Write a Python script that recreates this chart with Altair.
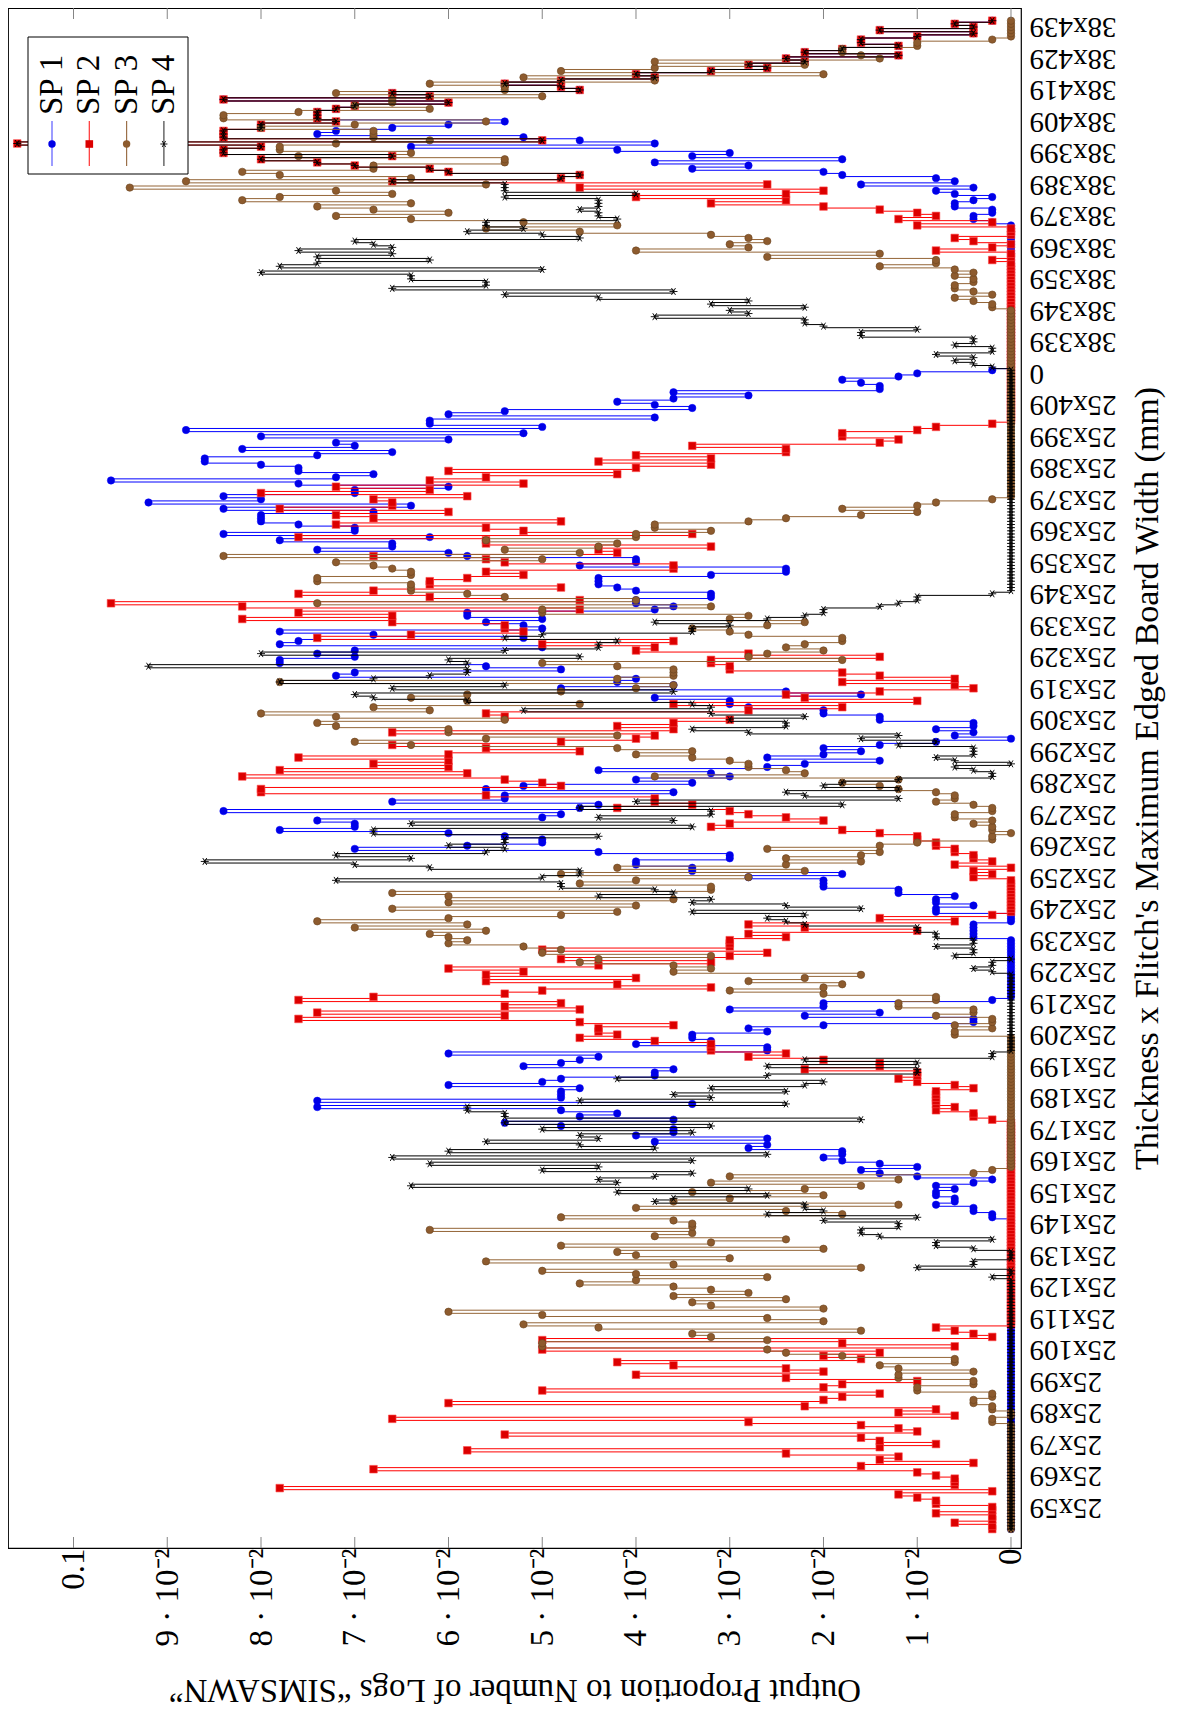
import json
import altair as alt
import pandas as pd

# ---------------- data ----------------
N_LOGS = 500  # proportions are counts of logs out of 500 (steps of 0.002)
SERIES = ["SP 1", "SP 2", "SP 3", "SP 4"]
FIRST_CAT, LAST_CAT = -7, 472          # category positions (1 mm steps)
TICK_POSITIONS = list(range(0, 471, 10))
TICK_LABELS = ["25x59", "25x69", "25x79", "25x89", "25x99", "25x109", "25x119", "25x129",
               "25x139", "25x149", "25x159", "25x169", "25x179", "25x189", "25x199", "25x209",
               "25x219", "25x229", "25x239", "25x249", "25x259", "25x269", "25x279", "25x289",
               "25x299", "25x309", "25x319", "25x329", "25x339", "25x349", "25x359", "25x369",
               "25x379", "25x389", "25x399", "25x409", "0", "38x339", "38x349", "38x359",
               "38x369", "38x379", "38x389", "38x399", "38x409", "38x419", "38x429", "38x439"]
VALUE_TICKS = [0, 0.01, 0.02, 0.03, 0.04, 0.05, 0.06, 0.07, 0.08, 0.09, 0.1]
VALUE_TICK_LABELS = ["0", "1 · 10⁻²", "2 · 10⁻²", "3 · 10⁻²", "4 · 10⁻²", "5 · 10⁻²",
                     "6 · 10⁻²", "7 · 10⁻²", "8 · 10⁻²", "9 · 10⁻²", "0.1"]

# log counts per category position (missing positions are 0)
SP1 = {92:1,93:1,94:2,95:2,96:4,97:3,98:3,99:4,100:4,101:3,102:4,103:2,104:1,105:5,106:7,107:8,
       108:5,109:7,110:9,111:10,112:9,113:9,114:14,115:13,116:19,117:13,118:20,119:18,120:18,
       121:24,122:27,123:18,124:23,125:21,126:24,127:37,128:17,129:37,130:24,131:24,132:24,
       133:23,134:30,135:25,136:24,137:19,138:19,139:18,140:26,141:24,142:23,143:22,144:30,
       145:13,146:13,147:20,148:16,149:17,150:17,151:13,152:14,153:10,154:2,155:2,156:11,
       157:7,158:15,159:10,160:10,161:1,
       181:2,182:2,183:2,184:2,185:2,189:4,190:4,191:2,192:4,193:4,194:3,195:6,196:6,197:10,
       198:10,199:10,200:14,201:9,202:17,203:17,204:20,205:20,206:15,207:15,208:22,209:35,
       210:29,211:25,212:25,213:27,214:30,215:39,216:35,217:35,218:37,219:25,220:24,221:42,
       222:23,223:22,224:33,225:27,226:27,227:18,228:28,229:26,230:17,231:20,232:15,233:16,
       234:22,235:13,236:11,237:7,238:13,239:10,240:8,241:10,242:7,243:4,245:3,246:2,247:4,
       248:2,249:2,250:7,251:7,252:10,253:10,254:14,255:15,256:15,257:19,258:8,259:12,260:24,
       261:18,262:21,263:20,264:36,265:35,266:24,267:28,268:39,269:39,270:35,271:37,272:35,
       273:25,274:39,275:38,276:26,277:34,278:39,279:25,280:26,281:28,282:25,283:29,284:29,
       285:19,286:18,287:20,288:20,289:16,290:16,291:20,292:21,293:22,294:22,295:22,296:16,
       297:12,298:12,299:23,300:20,301:20,302:29,303:30,304:37,305:33,306:33,307:39,308:31,
       309:42,310:35,311:35,312:38,313:40,314:40,315:40,316:34,317:42,318:32,319:46,320:40,
       321:42,322:35,323:35,324:30,325:38,326:48,327:36,328:34,329:38,330:38,331:40,332:43,
       333:43,334:37,335:33,336:41,337:35,338:36,339:30,340:40,341:26,342:44,343:25,344:31,
       345:31,346:19,347:30,348:27,349:17,350:19,351:21,352:18,353:14,354:18,355:7,356:7,
       357:8,358:9,359:6,360:5,361:1,
       408:1,409:2,410:2,411:1,412:1,413:3,414:3,415:2,416:1,417:3,418:4,419:2,420:8,421:3,
       422:4,423:9,424:10,425:17,426:14,427:19,428:9,429:17,430:15,431:21,432:32,433:19,
       434:23,435:26,436:37,437:36,438:33,439:30,440:27}

SP2 = {-7:1,-6:1,-5:3,-4:1,-3:1,-2:4,-1:1,0:1,1:4,2:4,3:5,4:6,5:1,6:39,7:3,8:3,9:3,10:4,11:5,
       12:34,13:8,14:2,15:7,16:6,17:12,18:29,19:7,20:4,21:7,22:8,23:27,24:5,25:6,26:8,27:14,
       28:33,29:3,30:6,31:4,32:11,33:30,34:10,35:9,36:7,37:25,38:10,39:9,40:5,41:12,42:20,
       43:10,44:12,45:18,46:21,47:8,48:10,49:7,50:25,51:3,52:9,53:25,54:1,55:2,56:3,57:4,
       123:1,124:2,125:2,126:4,127:3,128:4,129:4,130:4,131:4,132:4,133:2,134:3,135:5,136:6,
       137:5,138:5,139:11,140:7,141:7,142:10,143:14,144:12,145:16,146:16,147:16,148:19,
       149:23,150:21,151:22,152:22,153:18,154:23,155:38,156:27,157:37,158:23,159:27,160:24,
       161:38,162:34,163:27,164:25,165:16,166:21,167:28,168:20,169:28,170:26,171:30,172:22,
       173:16,174:24,175:15,176:13,177:25,178:15,179:15,180:15,181:12,182:14,183:5,184:11,
       185:14,186:3,187:7,188:1,
       200:2,201:1,202:2,204:3,205:1,206:2,207:2,208:3,209:3,210:4,211:4,212:5,213:5,214:7,
       215:9,216:16,217:15,218:10,219:12,220:14,221:15,222:21,223:17,224:19,225:19,226:28,
       227:40,228:40,229:24,230:25,231:27,232:41,233:29,234:39,235:30,236:34,237:30,238:38,
       239:30,240:23,241:28,242:33,243:24,244:20,245:19,246:33,247:18,248:21,249:18,250:15,
       251:27,252:28,253:14,254:9,255:18,256:5,257:11,258:12,259:7,260:2,261:3,262:9,263:3,
       264:7,265:9,266:15,267:15,268:16,269:16,270:7,271:14,272:20,273:19,274:25,275:18,
       276:37,277:32,278:26,279:27,280:27,281:33,282:41,283:33,284:38,285:23,286:41,287:48,
       288:23,289:31,290:38,291:34,292:24,293:31,294:31,295:29,296:26,297:28,298:18,299:18,
       300:27,301:28,302:34,303:21,304:22,305:16,306:28,307:28,308:38,309:17,310:26,311:28,
       312:36,313:24,314:34,315:36,316:30,317:39,318:33,319:33,320:34,321:29,322:40,323:31,
       324:36,325:26,326:31,327:28,328:21,329:30,330:20,331:16,332:22,333:16,334:20,335:12,
       336:12,337:17,338:7,339:6,340:9,341:9,342:5,343:4,344:1,
       396:1,399:4,400:1,402:2,403:3,407:5,408:1,409:6,410:4,411:5,412:7,413:10,414:16,
       415:12,416:20,417:12,418:10,419:23,420:13}

SP3 = {27:1,28:1,31:1,32:1,33:2,34:2,35:1,36:1,37:5,38:5,39:2,40:2,41:6,42:6,43:2,44:6,45:7,
       46:3,47:3,48:9,49:12,50:13,51:25,52:25,53:13,54:16,55:17,56:8,57:22,58:26,59:10,60:13,
       61:25,62:30,63:10,64:16,65:17,66:12,67:18,68:14,69:16,70:18,71:23,72:20,73:13,74:20,
       75:25,76:8,77:18,78:28,79:15,80:20,81:21,82:10,83:24,84:16,85:12,86:19,87:17,88:31,
       89:17,90:17,91:18,92:24,93:9,94:12,95:20,96:6,97:18,98:15,99:10,100:17,101:11,102:8,
       103:16,104:6,105:15,106:2,107:1,
       150:3,151:3,152:1,153:3,154:1,155:1,156:4,157:2,158:2,159:6,160:6,161:4,162:4,163:10,
       164:15,165:10,166:9,167:14,168:11,169:8,170:18,171:16,172:18,173:23,174:22,175:16,
       176:25,177:24,178:26,179:30,180:29,181:30,182:31,183:28,184:35,185:29,186:37,187:30,
       188:24,189:21,190:33,191:20,192:30,193:18,194:30,195:33,196:16,197:16,198:23,199:20,
       200:14,201:24,202:11,203:21,204:12,205:8,206:12,207:8,208:7,209:13,210:7,211:5,212:1,
       213:1,215:1,216:1,217:2,218:1,219:3,220:3,221:1,222:1,223:2,224:4,225:3,226:3,227:4,
       228:6,229:7,230:9,231:6,232:19,233:11,234:12,235:14,236:14,237:15,238:17,239:20,
       240:17,241:21,242:32,243:35,244:28,245:21,246:30,247:30,248:36,249:37,250:27,251:36,
       252:40,253:31,254:34,255:23,256:29,257:32,258:29,259:24,260:20,261:18,262:39,263:21,
       264:18,265:18,266:18,267:21,268:25,269:9,270:14,271:13,272:10,273:12,274:11,275:9,
       276:9,277:14,278:15,279:17,280:13,281:11,282:15,283:14,284:25,285:25,286:16,287:37,
       288:20,289:27,290:29,291:32,292:32,293:32,294:37,295:37,296:32,297:32,298:33,299:34,
       300:36,301:25,302:42,303:23,304:27,305:22,306:21,307:28,308:20,309:20,310:16,311:19,
       312:19,313:14,314:12,315:8,316:5,317:9,318:5,319:4,320:1,
       381:1,382:1,383:2,384:3,385:1,386:2,387:3,388:3,389:2,390:2,391:3,392:2,393:3,394:7,
       395:4,396:4,397:13,398:7,399:20,400:14,401:15,402:13,403:14,404:16,405:23,406:28,
       407:21,408:26,409:32,410:36,411:30,412:34,413:37,414:32,415:41,416:39,417:33,418:36,
       419:47,420:28,421:44,422:32,423:39,424:41,425:34,426:34,427:27,428:27,429:38,430:32,
       431:39,432:39,433:36,434:31,435:34,436:34,437:34,438:40,439:35,440:28,441:42,442:42,
       443:38,444:31,445:35,446:33,447:33,448:25,449:36,450:27,451:27,452:31,453:19,454:26,
       455:10,456:24,457:19,458:11,459:19,460:7,461:8,462:9,463:9,464:5,465:5,466:1}

SP4 = {73:1,76:5,77:2,78:2,82:2,83:4,84:4,85:1,86:7,87:8,88:8,89:6,90:6,91:10,92:5,93:13,
       94:10,95:11,96:11,97:19,98:18,99:13,100:21,101:14,102:32,103:21,104:22,105:19,106:17,
       107:25,108:22,109:31,110:17,111:33,112:13,113:30,114:19,115:23,116:28,117:22,118:23,
       119:17,120:25,121:16,122:27,123:8,124:27,125:27,126:29,127:29,128:12,129:23,130:16,
       131:18,132:12,133:16,134:11,135:10,136:21,137:13,138:5,139:5,140:13,141:5,142:11,
       143:1,144:1,
       170:1,171:2,172:1,173:1,175:3,176:2,177:2,178:4,179:2,180:2,181:4,182:4,183:5,184:5,
       185:11,186:12,187:13,188:11,189:17,190:8,191:12,192:17,193:16,194:22,195:18,196:19,
       197:24,198:24,199:36,200:25,201:23,202:23,203:31,204:35,205:43,206:32,207:36,208:28,
       209:27,210:30,211:27,212:27,213:22,214:34,215:34,216:17,217:32,218:18,219:22,220:16,
       221:16,222:23,223:9,224:20,225:6,226:11,227:12,228:6,229:10,230:9,231:6,232:1,233:1,
       234:2,235:3,237:3,238:4,239:2,240:2,241:2,242:6,243:4,244:8,245:6,246:14,247:17,
       248:12,249:12,250:15,251:11,252:16,253:26,254:16,255:17,256:29,257:34,258:35,259:18,
       260:33,261:27,262:39,263:34,264:31,265:29,266:29,267:46,268:29,269:30,270:23,271:40,
       272:27,273:22,274:22,275:21,276:27,277:25,278:17,279:17,280:15,281:19,282:13,283:11,
       284:10,285:10,286:7,287:6,288:5,289:5,290:1,
       362:1,363:2,364:3,365:2,366:4,367:1,368:1,369:3,370:2,371:2,372:8,373:8,374:5,375:10,
       376:11,377:11,378:19,379:14,380:15,381:11,382:16,383:14,384:22,385:27,386:18,387:33,
       388:28,389:28,390:32,391:32,392:40,393:25,394:39,395:37,396:31,397:37,398:33,399:38,
       400:33,401:34,402:35,403:23,404:25,405:29,406:26,407:28,408:28,409:21,410:22,411:22,
       412:23,413:22,414:22,415:22,416:27,417:20,418:27,419:27,420:27}

# top rows where the SP 2 square carries the SP 4 star (identical counts); SP 1 hidden beneath from 441
SHARED_TOP_START = 421
SP1_HIDDEN_FROM = 441
SHARED_TOP = [33,24,23,30,31,35,37,40,33,42,42,40,53,25,42,42,42,40,40,36,37,37,37,36,35,30,
              42,31,33,23,24,27,24,19,20,16,13,14,11,12,6,11,9,6,8,8,5,2,7,2,3,1]

# ---------------- styling ----------------
FONT = "Liberation Serif"
LINE_COLORS = ["#0000ff", "#ff0000", "#946537", "#000000"]
LEG_LINE = ["#5a5aff", "#ff3030", "#9b7049", "#444444"]
STAR = "M-1,0L1,0M-0.5,-0.866L0.5,0.866M-0.5,0.866L0.5,-0.866"
W, H = 1013, 1540

counts = [dict(SP1), dict(SP2), dict(SP3), dict(SP4)]
for k, c in enumerate(SHARED_TOP):
    pos = SHARED_TOP_START + k
    counts[1][pos] = c
    counts[3][pos] = c
    if pos >= SP1_HIDDEN_FROM:
        counts[0][pos] = c

xs = alt.Scale(domain=[-0.001067, 0.106987], reverse=True, nice=False, zero=False)
ys = alt.Scale(domain=[-13.02, 476.03], nice=False, zero=False)

x_axis = alt.Axis(
    values=VALUE_TICKS,
    labelExpr=json.dumps(VALUE_TICK_LABELS, ensure_ascii=False) + "[round(datum.value * 100)]",
    labelAngle=270, labelAlign="right", labelBaseline="middle", labelPadding=0,
    labelFont=FONT, labelFontSize=33, labelColor="black", labelOverlap=False,
    labelFlush=False, ticks=False, domain=False, grid=False,
    title="Output Proportion to Number of Logs “SIMSAWN”", titleAngle=180,
    titleBaseline="bottom", titleFont=FONT, titleFontSize=33, titleFontWeight="normal",
    titleColor="black", titlePadding=27)
y_axis = alt.Axis(
    orient="right", values=TICK_POSITIONS,
    labelExpr=json.dumps(TICK_LABELS) + "[round(datum.value / 10)]",
    labelAngle=180, labelAlign="right", labelBaseline="middle", labelPadding=8,
    labelFont=FONT, labelFontSize=29, labelColor="black", labelOverlap=False,
    labelFlush=False, ticks=False, domain=False, grid=False,
    title="Thickness x Flitch's Maximum Edged Board Width (mm)", titleAngle=270,
    titleBaseline="top", titleFont=FONT, titleFontSize=34, titleFontWeight="normal",
    titleColor="black", titlePadding=14)

X = alt.X("value:Q", scale=xs, axis=x_axis)

layers = []
for s, name in enumerate(SERIES):
    cats = list(range(FIRST_CAT, LAST_CAT + 1))
    vals = [counts[s].get(i, 0) / N_LOGS for i in cats]
    pts_df = pd.DataFrame({"cat": cats, "value": vals})
    # constant (step) plot: each value holds over its category cell, jumps at cell edges
    step_df = pd.DataFrame({
        "edge": [c + d for c in cats for d in (-0.5, 0.5)],
        "value": [v for v in vals for _ in (0, 1)],
        "seq": list(range(2 * len(cats))),
    })
    line = alt.Chart(step_df).mark_line(color=LINE_COLORS[s], strokeWidth=1.0).encode(
        x=X, y=alt.Y("edge:Q", scale=ys, axis=y_axis), order=alt.Order("seq:Q"))
    if s == 0:
        mk = alt.Chart(pts_df).mark_point(shape="circle", filled=True, size=55, fill="#0000e6",
                                          stroke="#0000ff", strokeWidth=0.5, opacity=1)
    elif s == 1:
        mk = alt.Chart(pts_df).mark_point(shape="square", filled=True, size=58, fill="#dc0000",
                                          stroke="#ff4a4a", strokeWidth=0.6, opacity=1)
    elif s == 2:
        mk = alt.Chart(pts_df).mark_point(shape="circle", filled=True, size=55, fill="#8d5b2e",
                                          stroke="#6a431f", strokeWidth=0.6, opacity=1)
    else:
        mk = alt.Chart(pts_df).mark_point(shape=STAR, filled=False, size=64, stroke="#000000",
                                          strokeWidth=0.9, opacity=1)
    layers += [line, mk.encode(x=X, y=alt.Y("cat:Q", scale=ys, axis=y_axis))]

# inward tick marks on the top and bottom frame
tick_df = pd.DataFrame({"value": VALUE_TICKS})
layers.append(alt.Chart(tick_df).mark_rule(color="#777777", strokeWidth=0.9).encode(
    x=X, y=alt.value(H), y2=alt.value(H - 11)))
layers.append(alt.Chart(tick_df).mark_rule(color="#777777", strokeWidth=0.9).encode(
    x=X, y=alt.value(0), y2=alt.value(11)))

# legend box (drawn rotated like the rest of the figure)
one = pd.DataFrame({"k": [0]})
layers.append(alt.Chart(one).mark_rect(fill="white", stroke="black", strokeWidth=1).encode(
    x=alt.value(20), x2=alt.value(180), y=alt.value(29), y2=alt.value(166)))
for s, name in enumerate(SERIES):
    px = 44 + 37.3 * s
    layers.append(alt.Chart(one).mark_rule(color=LEG_LINE[s], strokeWidth=1.2).encode(
        x=alt.value(px), y=alt.value(113), y2=alt.value(158)))
    if s == 0:
        m = alt.Chart(one).mark_point(shape="circle", filled=True, size=55, fill="#0000e6", opacity=1)
    elif s == 1:
        m = alt.Chart(one).mark_point(shape="square", filled=True, size=58, fill="#dc0000", opacity=1)
    elif s == 2:
        m = alt.Chart(one).mark_point(shape="circle", filled=True, size=55, fill="#8d5b2e", opacity=1)
    else:
        m = alt.Chart(one).mark_point(shape=STAR, filled=False, size=50, stroke="black",
                                      strokeWidth=0.9, opacity=1)
    layers.append(m.encode(x=alt.value(px), y=alt.value(136)))
    layers.append(alt.Chart(pd.DataFrame({"t": [name]})).mark_text(
        angle=270, align="left", baseline="middle", font=FONT, fontSize=33, color="black"
    ).encode(x=alt.value(px), y=alt.value(107), text="t:N"))

chart = alt.layer(*layers).properties(
    width=W, height=H,
    padding={"left": 0, "top": 0, "right": 160, "bottom": 168},
    autosize=alt.AutoSizeParams(type="none"),
).configure_view(stroke="black", strokeWidth=1.2)

chart.save("out.html", embed_options={"renderer": "svg", "actions": False})
